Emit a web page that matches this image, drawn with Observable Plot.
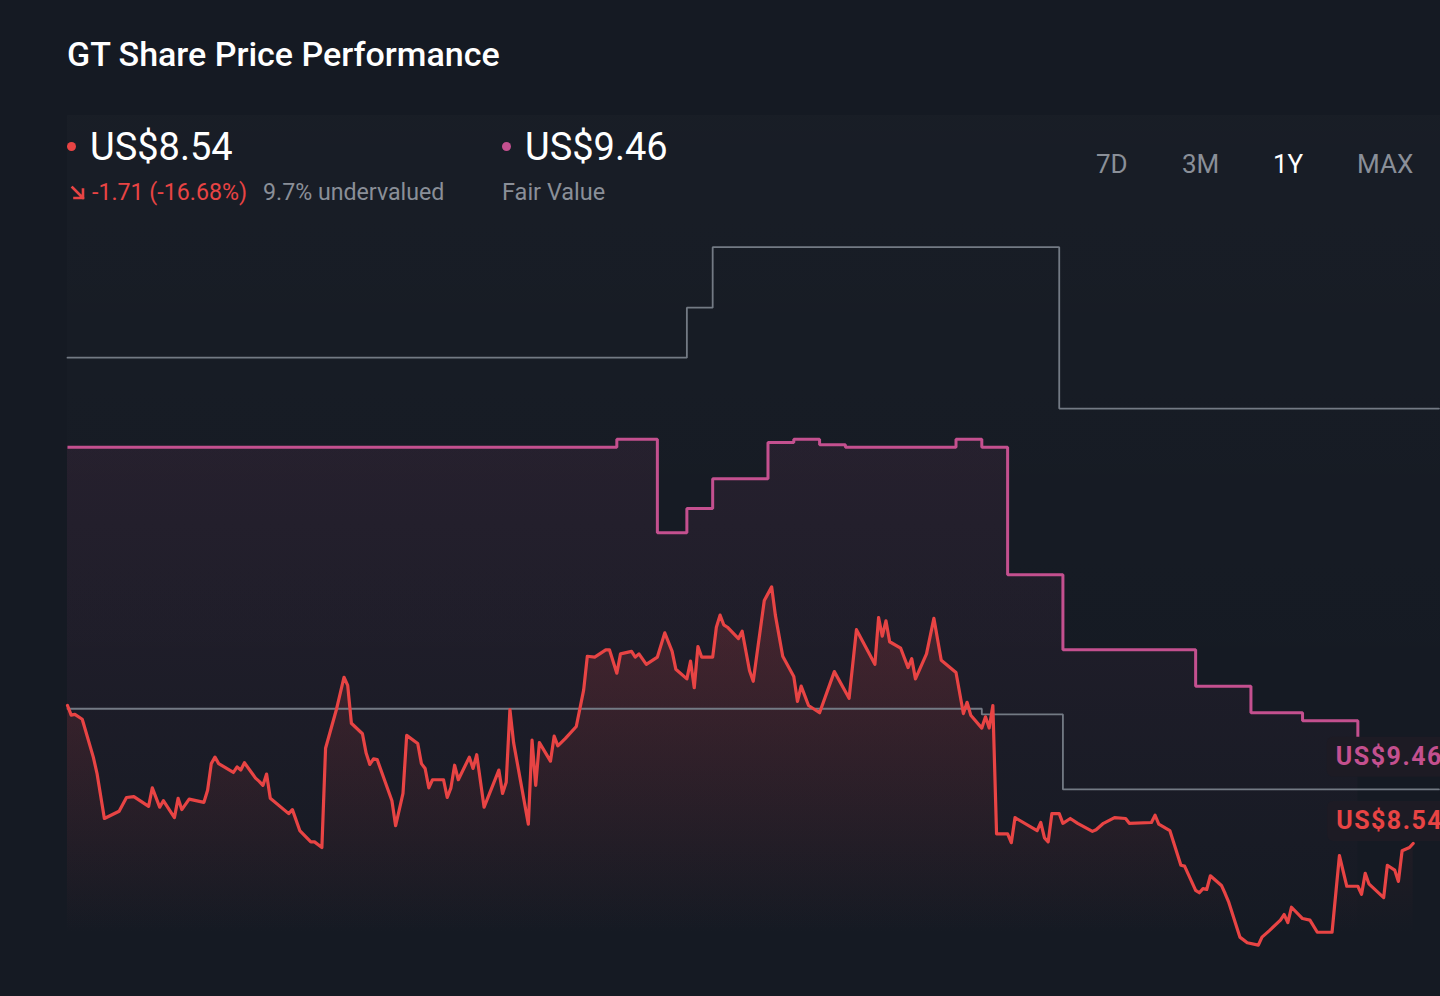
<!DOCTYPE html>
<html>
<head>
<meta charset="utf-8">
<script src="https://cdn.jsdelivr.net/npm/d3@7"></script>
<script src="https://cdn.jsdelivr.net/npm/@observablehq/plot@0.6"></script>
<style>
html,body{margin:0;padding:0;background:#151a23;width:1440px;height:996px;overflow:hidden;font-family:Roboto,"Noto Sans",sans-serif;}
#page{position:relative;width:1440px;height:996px;overflow:hidden;}
#panel{position:absolute;left:67px;top:115px;right:0;bottom:0;background:linear-gradient(180deg,rgba(255,255,255,0.016),rgba(255,255,255,0) 70%);}
.t{position:absolute;line-height:1;white-space:nowrap;}
.dot{position:absolute;width:9px;height:9px;border-radius:50%;}
.rng{position:absolute;top:151px;font-size:26px;line-height:1;color:#8a8f98;}
#chart{position:absolute;left:0;top:225px;}
</style>
</head>
<body>
<div id="page">
  <div id="panel"></div>
  <div id="header"></div>
  <div id="chart"></div>
</div>
<script>
// ---------- header content ----------
const title = "GT Share Price Performance";
const priceText = "US$8.54";
const changeText = "-1.71 (-16.68%)";
const valuationText = "9.7% undervalued";
const fairValueText = "US$9.46";
const fairValueCaption = "Fair Value";
const ranges = ["7D", "3M", "1Y", "MAX"];
const activeRange = "1Y";

// ---------- colours ----------
const RED = "#e84444";
const PINK = "#c4508f";
const GREY = "#737a84";

// ---------- share price (US$) ----------
const priceDates = [
"2024-11-29","2024-11-30","2024-12-01","2024-12-03","2024-12-06","2024-12-07","2024-12-09","2024-12-13","2024-12-15","2024-12-17",
"2024-12-21","2024-12-22","2024-12-24","2024-12-25","2024-12-28","2024-12-29","2024-12-30","2025-01-01","2025-01-05","2025-01-06",
"2025-01-07","2025-01-08","2025-01-09","2025-01-13","2025-01-14","2025-01-15","2025-01-16","2025-01-19","2025-01-20","2025-01-21",
"2025-01-22","2025-01-23","2025-01-28","2025-01-29","2025-01-31","2025-02-03","2025-02-04","2025-02-06","2025-02-07","2025-02-10",
"2025-02-12","2025-02-13","2025-02-14","2025-02-17","2025-02-18","2025-02-19","2025-02-20","2025-02-21","2025-02-25","2025-02-26",
"2025-02-28","2025-03-01","2025-03-04","2025-03-05","2025-03-06","2025-03-07","2025-03-08","2025-03-11","2025-03-12","2025-03-13",
"2025-03-14","2025-03-15","2025-03-18","2025-03-19","2025-03-20","2025-03-22","2025-03-26","2025-03-27","2025-03-28","2025-03-29",
"2025-03-30","2025-04-03","2025-04-04","2025-04-05","2025-04-06","2025-04-09","2025-04-10","2025-04-11","2025-04-13","2025-04-16",
"2025-04-18","2025-04-19","2025-04-21","2025-04-24","2025-04-25","2025-04-27","2025-04-28","2025-05-01","2025-05-02","2025-05-03",
"2025-05-05","2025-05-08","2025-05-10","2025-05-12","2025-05-13","2025-05-16","2025-05-17","2025-05-18","2025-05-19","2025-05-20",
"2025-05-23","2025-05-24","2025-05-25","2025-05-26","2025-05-27","2025-05-30","2025-05-31","2025-06-02","2025-06-03","2025-06-06",
"2025-06-08","2025-06-09","2025-06-11","2025-06-14","2025-06-15","2025-06-16","2025-06-18","2025-06-21","2025-06-25","2025-06-29",
"2025-07-01","2025-07-06","2025-07-07","2025-07-08","2025-07-09","2025-07-10","2025-07-13","2025-07-15","2025-07-16","2025-07-17",
"2025-07-20","2025-07-22","2025-07-24","2025-07-28","2025-07-30","2025-07-31","2025-08-01","2025-08-04","2025-08-05","2025-08-06",
"2025-08-07","2025-08-08","2025-08-11","2025-08-12","2025-08-13","2025-08-19","2025-08-20","2025-08-21","2025-08-22","2025-08-23",
"2025-08-25","2025-08-26","2025-08-28","2025-08-30","2025-09-03","2025-09-04","2025-09-06","2025-09-09","2025-09-12","2025-09-13",
"2025-09-19","2025-09-20","2025-09-21","2025-09-24","2025-09-27","2025-09-28","2025-10-01","2025-10-02","2025-10-03","2025-10-04",
"2025-10-05","2025-10-08","2025-10-09","2025-10-10","2025-10-13","2025-10-15","2025-10-18","2025-10-19","2025-10-21","2025-10-24",
"2025-10-25","2025-10-26","2025-10-27","2025-10-30","2025-11-01","2025-11-03","2025-11-07","2025-11-09","2025-11-11","2025-11-14",
"2025-11-15","2025-11-16","2025-11-17","2025-11-21","2025-11-22","2025-11-24","2025-11-25","2025-11-26","2025-11-28","2025-11-29"
];
const priceValues = [
10.25,10.13,10.14,10.08,9.61,9.41,8.85,8.94,9.11,9.12,
9.00,9.23,8.99,9.07,8.86,9.10,8.96,9.09,9.05,9.20,
9.53,9.61,9.53,9.42,9.49,9.45,9.54,9.35,9.31,9.26,
9.40,9.10,8.91,8.96,8.70,8.56,8.56,8.49,9.72,10.21,
10.60,10.50,10.03,9.90,9.66,9.52,9.59,9.58,9.07,8.76,
9.16,9.88,9.78,9.53,9.47,9.23,9.33,9.33,9.11,9.23,
9.51,9.33,9.61,9.47,9.64,8.99,9.45,9.16,9.30,10.20,
9.79,8.78,9.82,9.26,9.79,9.56,9.87,9.75,9.84,9.99,
10.44,10.86,10.85,10.94,10.94,10.65,10.89,10.92,10.85,10.89,
10.76,10.85,11.15,10.92,10.70,10.58,10.80,10.47,10.98,10.85,
10.85,11.22,11.37,11.25,11.22,11.08,11.17,10.68,10.55,11.55,
11.72,11.37,10.86,10.61,10.30,10.49,10.25,10.16,10.67,10.34,
11.19,10.76,11.34,11.11,11.30,11.04,10.96,10.72,10.83,10.58,
10.89,11.33,10.81,10.66,10.15,10.29,10.13,9.97,10.11,9.97,
10.25,8.66,8.66,8.55,8.86,8.70,8.80,8.61,8.56,8.91,
8.91,8.79,8.85,8.79,8.69,8.71,8.79,8.86,8.85,8.79,
8.80,8.89,8.78,8.70,8.27,8.26,7.96,7.93,7.98,7.97,
8.14,8.02,7.92,7.81,7.38,7.31,7.28,7.38,7.46,7.59,
7.66,7.56,7.75,7.61,7.59,7.44,7.44,8.39,8.01,8.01,
7.91,8.17,8.04,7.87,8.27,8.21,8.07,8.45,8.49,8.54
];

// ---------- fair value (US$, step changes) ----------
const fairDates = ["2024-11-29","2025-04-27","2025-05-08","2025-05-16","2025-05-23","2025-06-07","2025-06-14","2025-06-21","2025-06-28","2025-07-28","2025-08-04","2025-08-11","2025-08-26","2025-10-01","2025-10-16","2025-10-30","2025-11-14"];
const fairValues = [13.45,13.55,12.39,12.69,13.06,13.51,13.55,13.48,13.45,13.55,13.45,11.87,10.94,10.49,10.16,10.06,9.46];

// ---------- analyst price target range (US$, step changes) ----------
const targetHighDates = ["2024-11-29","2025-05-16","2025-05-23","2025-08-25","2025-12-06"];
const targetHighValues = [14.56,15.18,15.93,13.93,13.93];
const targetLowDates = ["2024-11-29","2025-08-04","2025-08-26","2025-12-06"];
const targetLowValues = [10.21,10.14,9.21,9.21];

// ---------- scales ----------
const xDomain = ["2024-11-29T00:00Z", "2025-12-06T10:00Z"];
const yDomain = [6.644, 16.198];

if (priceDates.length !== priceValues.length) throw new Error("price length mismatch " + priceDates.length + " " + priceValues.length);

const toRows = (ds, vs) => ds.map((d, i) => ({date: new Date(d + "T00:00Z"), value: vs[i]}));
const price = toRows(priceDates, priceValues);
const fair = toRows(fairDates, fairValues);
const tHigh = toRows(targetHighDates, targetHighValues);
const tLow = toRows(targetLowDates, targetLowValues);

// ---------- header ----------
const rangeLeft = [1096, 1182, 1273, 1357];
const arrow = `<svg width="16" height="16" viewBox="0 0 16 16" style="position:absolute;left:70px;top:185px">
  <path d="M2.5 2.5 L13 13 M13 4.5 L13 13 L4.5 13" fill="none" stroke="${RED}" stroke-width="2.6" stroke-linecap="square"/></svg>`;
document.getElementById("header").innerHTML = `
  <div class="t" style="left:67px;top:37px;font-size:34px;font-weight:500;color:#ffffff">${title}</div>
  <div class="dot" style="left:67px;top:142px;background:${RED}"></div>
  <div class="t" style="left:90px;top:128px;font-size:38px;color:#ffffff">${priceText}</div>
  ${arrow}
  <div class="t" style="left:92px;top:181px;font-size:23.2px;color:${RED}">${changeText}</div>
  <div class="t" style="left:263px;top:181px;font-size:23.2px;color:#8a8f98">${valuationText}</div>
  <div class="dot" style="left:502px;top:142px;background:${PINK}"></div>
  <div class="t" style="left:525px;top:128px;font-size:38px;color:#ffffff">${fairValueText}</div>
  <div class="t" style="left:502px;top:181px;font-size:23.5px;color:#8a8f98">${fairValueCaption}</div>
  ${ranges.map((r, i) => `<span class="rng" style="left:${rangeLeft[i]}px;color:${r === activeRange ? "#ffffff" : "#8a8f98"}">${r}</span>`).join("")}
`;

// ---------- gradients ----------
function defs() {
  const g = d3.create("svg:defs");
  const red = g.append("linearGradient").attr("id", "redGrad").attr("x1", 0).attr("x2", 0).attr("y1", 0).attr("y2", 1);
  red.append("stop").attr("offset", "0%").attr("stop-color", RED).attr("stop-opacity", 0.2);
  red.append("stop").attr("offset", "85%").attr("stop-color", RED).attr("stop-opacity", 0);
  const pink = g.append("linearGradient").attr("id", "pinkGrad").attr("x1", 0).attr("x2", 0).attr("y1", 0).attr("y2", 1);
  pink.append("stop").attr("offset", "0%").attr("stop-color", PINK).attr("stop-opacity", 0.09);
  pink.append("stop").attr("offset", "90%").attr("stop-color", PINK).attr("stop-opacity", 0);
  return g.node();
}

const lastPrice = price[price.length - 1];
const lastFair = fair[fair.length - 1];

const chart = Plot.plot({
  width: 1440,
  height: 771,
  marginLeft: 67,
  marginRight: 0,
  marginTop: 0,
  marginBottom: 0,
  style: {background: "transparent", fontFamily: "Roboto"},
  x: {type: "utc", domain: xDomain.map(d => new Date(d)), axis: null},
  y: {domain: yDomain, axis: null},
  marks: [
    defs,
    Plot.areaY(fair, {x: "date", y1: yDomain[0], y2: "value", curve: "step-after", fill: "url(#pinkGrad)"}),
    Plot.areaY(price, {x: "date", y1: yDomain[0], y2: "value", fill: "url(#redGrad)"}),
    Plot.line(tHigh, {x: "date", y: "value", curve: "step-after", stroke: GREY, strokeWidth: 1.8, strokeLinejoin: "miter"}),
    Plot.line(tLow, {x: "date", y: "value", curve: "step-after", stroke: GREY, strokeWidth: 1.8, strokeLinejoin: "miter"}),
    Plot.line(fair, {x: "date", y: "value", curve: "step-after", stroke: PINK, strokeWidth: 3, strokeLinejoin: "miter", strokeLinecap: "butt"}),
    Plot.line(price, {x: "date", y: "value", stroke: RED, strokeWidth: 3.2}),
    Plot.text([lastFair], {x: "date", y: "value", text: () => fairValueText, textAnchor: "start", dx: -22, dy: -12,
      fill: PINK, fontSize: 25, fontWeight: 700, className: "val-label"}),
    Plot.text([lastPrice], {x: "date", y: "value", text: () => priceText, textAnchor: "start", dx: -77, dy: -22,
      fill: RED, fontSize: 25, fontWeight: 700, className: "val-label"})
  ]
});

document.getElementById("chart").appendChild(chart);

// label boxes behind the value labels
chart.querySelectorAll("g.val-label text").forEach(t => {
  t.style.letterSpacing = "1.5px";
  const b = t.getBBox();
  const r = document.createElementNS("http://www.w3.org/2000/svg", "rect");
  r.setAttribute("x", b.x - 9);
  r.setAttribute("y", b.y - 5.5);
  r.setAttribute("width", b.width + 40);
  r.setAttribute("height", b.height + 11);
  r.setAttribute("rx", 6);
  r.setAttribute("fill", "#1d1b24");
  const tr = t.getAttribute("transform");
  if (tr) r.setAttribute("transform", tr);
  t.parentNode.insertBefore(r, t);
});
</script>
</body>
</html>
